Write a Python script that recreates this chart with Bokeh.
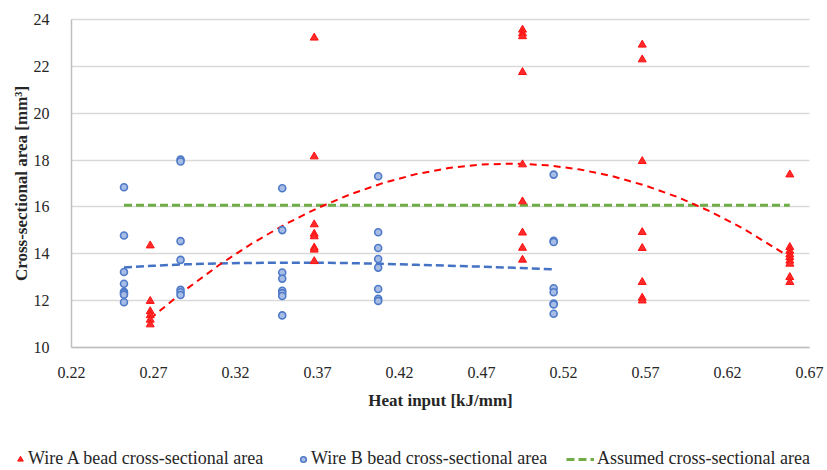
from bokeh.plotting import figure
from bokeh.models import FixedTicker, Legend, LegendItem, Range1d
from bokeh.embed import file_html
from bokeh.resources import INLINE

# ---- data ----
wire_a_x = [0.268] * 6 + [0.368] * 8 + [0.495] * 9 + [0.568] * 8 + [0.658] * 9
wire_a_y = [14.35, 11.98, 11.54, 11.37, 11.18, 10.98,
            23.22, 18.15, 15.25, 14.85, 14.74, 14.26, 14.17, 13.68,
            23.56, 23.40, 23.28, 21.75, 17.81, 16.23, 14.90, 14.25, 13.74,
            22.92, 22.29, 17.95, 14.92, 14.24, 12.79, 12.12, 12.00,
            17.38, 14.28, 14.12, 13.97, 13.85, 13.70, 13.57, 13.00, 12.79]

wire_b_x = [0.252] * 8 + [0.2865] * 7 + [0.3485] * 8 + [0.407] * 8 + [0.514] * 8
wire_b_y = [16.84, 14.78, 13.22, 12.72, 12.38, 12.32, 12.25, 11.93,
            18.02, 17.94, 14.54, 13.74, 12.46, 12.36, 12.24,
            16.80, 15.01, 13.20, 12.94, 12.42, 12.32, 12.20, 11.37,
            17.31, 14.92, 14.25, 13.78, 13.41, 12.50, 12.08, 11.99,
            17.38, 14.55, 14.50, 12.53, 12.36, 11.88, 11.84, 11.44]

# polynomial trendlines as drawn in the picture
trend_a_x = [0.268, 0.29, 0.31, 0.33, 0.35, 0.37, 0.39, 0.41, 0.43, 0.45,
             0.47, 0.49, 0.51, 0.53, 0.55, 0.57, 0.59, 0.61, 0.63, 0.658]
trend_a_y = [11.23, 12.49, 13.52, 14.44, 15.25, 15.95, 16.54, 17.02, 17.40, 17.66,
             17.81, 17.85, 17.78, 17.60, 17.31, 16.91, 16.41, 15.79, 15.06, 13.86]
trend_b_x = [0.252, 0.27, 0.29, 0.31, 0.33, 0.35, 0.37, 0.39, 0.41, 0.43,
             0.45, 0.47, 0.49, 0.514]
trend_b_y = [13.41, 13.49, 13.55, 13.59, 13.61, 13.62, 13.62, 13.60, 13.57, 13.53,
             13.49, 13.45, 13.40, 13.34]

assumed_x = [0.252, 0.658]
assumed_y = [16.07, 16.07]

x_ticks = [0.22, 0.27, 0.32, 0.37, 0.42, 0.47, 0.52, 0.57, 0.62, 0.67]
y_ticks = [10, 12, 14, 16, 18, 20, 22, 24]
x_min, x_max = 0.22, 0.67
y_min, y_max = 10, 24

labels = ["Wire A bead cross-sectional area",
          "Wire B bead cross-sectional area",
          "Assumed cross-sectional area"]

SERIF = "Liberation Serif"
TXT = "#262626"
RED, BLUE, GREEN = "#FF0000", "#4472C4", "#70AD47"

# ---- layout in pixels (the data area is 71..809 x 19..347 of the 827x470 page) ----
W, H = 827, 470
L, R, T, B = 71, 809, 19, 347
xs = (x_max - x_min) / (R - L)
ys = (y_max - y_min) / (B - T)

p = figure(width=W, height=H, output_backend="svg", toolbar_location=None,
           x_range=Range1d(x_min - L * xs, x_max + (W - R) * xs),
           y_range=Range1d(y_min - (H - B) * ys, y_max + T * ys),
           min_border=0)
p.outline_line_color = None

p.xgrid.grid_line_color = None
p.ygrid.ticker = FixedTicker(ticks=y_ticks)
p.ygrid.grid_line_color = "#D9D9D9"
p.ygrid.grid_line_width = 1.5
p.ygrid.cross_bounds = (x_min, x_max)

p.xaxis.ticker = FixedTicker(ticks=x_ticks)
p.xaxis.major_label_overrides = {t: f"{t:.2f}" for t in x_ticks}
p.yaxis.ticker = FixedTicker(ticks=y_ticks)
p.xaxis.fixed_location = y_min
p.yaxis.fixed_location = x_min
p.xaxis.bounds = (x_min, x_max)
p.yaxis.bounds = (y_min, y_max)
for ax in (p.xaxis[0], p.yaxis[0]):
    ax.major_tick_line_color = None
    ax.minor_tick_line_color = None
    ax.axis_line_color = "#BFBFBF"
    ax.axis_line_width = 1.5
    ax.major_label_text_font = SERIF
    ax.major_label_text_font_size = "16px"
    ax.major_label_text_color = TXT
    ax.axis_label_text_font = SERIF
    ax.axis_label_text_font_style = "bold"
    ax.axis_label_text_font_size = "17px"
    ax.axis_label_text_color = TXT
p.xaxis.axis_label = "Heat input [kJ/mm]"
p.yaxis.axis_label = "Cross-sectional area [mm³]"
p.xaxis.major_label_standoff = 13
p.xaxis.axis_label_standoff = 10
p.yaxis.major_label_standoff = 16
p.yaxis.axis_label_standoff = 0

r_c = p.line(assumed_x, assumed_y, line_color=GREEN, line_width=3, line_dash="8 4")
p.line(trend_b_x, trend_b_y, line_color=BLUE, line_width=2.5, line_dash="8 4")
p.line(trend_a_x, trend_a_y, line_color=RED, line_width=2, line_dash="7 5")

r_b = p.scatter(wire_b_x, wire_b_y, size=7, marker="circle", line_color="#4F7AC8",
                line_width=1.6, fill_color="#A8BDE6")
r_a = p.scatter(wire_a_x, wire_a_y, size=8, marker="triangle", line_color="#FF1010",
                line_width=1, fill_color="#FF2A2A")


def add_legend(label, renderer, x, gw, standoff):
    lg = Legend(items=[LegendItem(label=label, renderers=[renderer])],
                location=(x, 1), orientation="horizontal",
                padding=0, margin=0, spacing=0,
                glyph_width=gw, glyph_height=16, label_height=16,
                label_standoff=standoff, label_text_font=SERIF,
                label_text_font_size="18px", label_text_color=TXT,
                border_line_color=None, background_fill_alpha=0)
    p.add_layout(lg, "center")


add_legend(labels[0], r_a, 13, 14, 1)
add_legend(labels[1], r_b, 296, 14, 1)
add_legend(labels[2], r_c, 566, 28, 3)

open("out.html", "w").write(file_html(p, INLINE))
